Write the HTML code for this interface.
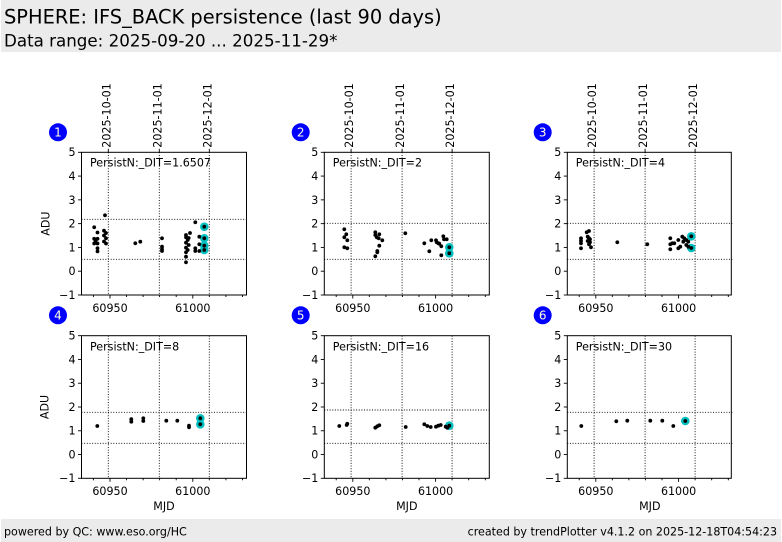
<!DOCTYPE html>
<html><head><meta charset="utf-8"><style>
html,body{margin:0;padding:0;background:#fff;}
svg{display:block;}
text{font-family:"DejaVu Sans","Liberation Sans",sans-serif;fill:#000;}
.t{font-size:11.1px;}
.g{stroke:#000;stroke-width:0.9;stroke-dasharray:1,1.65;fill:none;}
.k{stroke:#000;stroke-width:0.9;}
</style></head><body>
<svg width="782" height="542" viewBox="0 0 782 542" xmlns="http://www.w3.org/2000/svg">
<rect x="0" y="0" width="782" height="542" fill="#fff"/>
<rect x="1" y="0" width="780" height="52" fill="#ebebeb"/>
<text x="4" y="23.5" style="font-size:19.4px">SPHERE: IFS_BACK persistence (last 90 days)</text>
<text x="4" y="46.5" style="font-size:16.7px">Data range: 2025-09-20 ... 2025-11-29*</text>
<rect x="1" y="519" width="780" height="23" fill="#ebebeb"/>
<text x="4" y="535.5" class="t">powered by QC: www.eso.org/HC</text>
<text x="777" y="535.5" class="t" text-anchor="end">created by trendPlotter v4.1.2 on 2025-12-18T04:54:23</text>

<!-- circled numbers -->
<g style="font-size:12px" text-anchor="middle">
<circle cx="58" cy="132.3" r="9" fill="#0000ff"/><text x="58" y="136.6" style="fill:#ffffe0;font-size:12px">1</text>
<circle cx="300.7" cy="132.3" r="9" fill="#0000ff"/><text x="300.7" y="136.6" style="fill:#ffffe0;font-size:12px">2</text>
<circle cx="542.7" cy="132.3" r="9" fill="#0000ff"/><text x="542.7" y="136.6" style="fill:#ffffe0;font-size:12px">3</text>
<circle cx="58" cy="315.3" r="9" fill="#0000ff"/><text x="58" y="319.6" style="fill:#ffffe0;font-size:12px">4</text>
<circle cx="300.7" cy="315.3" r="9" fill="#0000ff"/><text x="300.7" y="319.6" style="fill:#ffffe0;font-size:12px">5</text>
<circle cx="542.7" cy="315.3" r="9" fill="#0000ff"/><text x="542.7" y="319.6" style="fill:#ffffe0;font-size:12px">6</text>
</g>

<!-- PANEL 1 -->
<g transform="translate(81.5,152.3)">
<line class="g" x1="26.8" y1="0" x2="26.8" y2="142.7"/><line class="g" x1="77.8" y1="0" x2="77.8" y2="142.7"/><line class="g" x1="127.8" y1="0" x2="127.8" y2="142.7"/>
<line class="g" x1="0" y1="67" x2="165" y2="67"/><line class="g" x1="0" y1="107" x2="165" y2="107"/>
<rect x="0" y="0" width="165" height="142.7" fill="none" stroke="#000" stroke-width="1"/>
<g class="k"><line x1="-3.5" y1="0" x2="0" y2="0"/><line x1="-3.5" y1="23.78" x2="0" y2="23.78"/><line x1="-3.5" y1="47.56" x2="0" y2="47.56"/><line x1="-3.5" y1="71.34" x2="0" y2="71.34"/><line x1="-3.5" y1="95.12" x2="0" y2="95.12"/><line x1="-3.5" y1="118.9" x2="0" y2="118.9"/><line x1="-3.5" y1="142.7" x2="0" y2="142.7"/>
<line x1="28.5" y1="142.7" x2="28.5" y2="146.2"/><line x1="111.3" y1="142.7" x2="111.3" y2="146.2"/>
<line x1="11.9" y1="142.7" x2="11.9" y2="144.7"/><line x1="45" y1="142.7" x2="45" y2="144.7"/><line x1="61.6" y1="142.7" x2="61.6" y2="144.7"/><line x1="78.1" y1="142.7" x2="78.1" y2="144.7"/><line x1="94.7" y1="142.7" x2="94.7" y2="144.7"/><line x1="127.8" y1="142.7" x2="127.8" y2="144.7"/><line x1="144.4" y1="142.7" x2="144.4" y2="144.7"/><line x1="161" y1="142.7" x2="161" y2="144.7"/>
<line x1="26.8" y1="0" x2="26.8" y2="-3.5"/><line x1="77.8" y1="0" x2="77.8" y2="-3.5"/><line x1="127.8" y1="0" x2="127.8" y2="-3.5"/></g>
<g class="t" text-anchor="end"><text x="-6" y="3.9">5</text><text x="-6" y="27.7">4</text><text x="-6" y="51.5">3</text><text x="-6" y="75.2">2</text><text x="-6" y="99">1</text><text x="-6" y="122.8">0</text><text x="-6" y="146.6">−1</text></g>
<g class="t" text-anchor="middle"><text x="28.5" y="159.5">60950</text><text x="111.3" y="159.5">61000</text></g>
<g class="t"><text transform="translate(28.8,-4.6) rotate(-90)">2025-10-01</text><text transform="translate(79.8,-4.6) rotate(-90)">2025-11-01</text><text transform="translate(129.8,-4.6) rotate(-90)">2025-12-01</text></g>
<text x="8.5" y="14.3" class="t">PersistN:_DIT=1.6507</text>
</g>
<text class="t" text-anchor="middle" transform="translate(49.5,223.6) rotate(-90)">ADU</text>

<!-- PANEL 2 -->
<g transform="translate(324.3,152.3)">
<line class="g" x1="26.8" y1="0" x2="26.8" y2="142.7"/><line class="g" x1="77.8" y1="0" x2="77.8" y2="142.7"/><line class="g" x1="127.8" y1="0" x2="127.8" y2="142.7"/>
<line class="g" x1="0" y1="71" x2="165" y2="71"/><line class="g" x1="0" y1="107" x2="165" y2="107"/>
<rect x="0" y="0" width="165" height="142.7" fill="none" stroke="#000" stroke-width="1"/>
<g class="k"><line x1="-3.5" y1="0" x2="0" y2="0"/><line x1="-3.5" y1="23.78" x2="0" y2="23.78"/><line x1="-3.5" y1="47.56" x2="0" y2="47.56"/><line x1="-3.5" y1="71.34" x2="0" y2="71.34"/><line x1="-3.5" y1="95.12" x2="0" y2="95.12"/><line x1="-3.5" y1="118.9" x2="0" y2="118.9"/><line x1="-3.5" y1="142.7" x2="0" y2="142.7"/>
<line x1="28.5" y1="142.7" x2="28.5" y2="146.2"/><line x1="111.3" y1="142.7" x2="111.3" y2="146.2"/>
<line x1="11.9" y1="142.7" x2="11.9" y2="144.7"/><line x1="45" y1="142.7" x2="45" y2="144.7"/><line x1="61.6" y1="142.7" x2="61.6" y2="144.7"/><line x1="78.1" y1="142.7" x2="78.1" y2="144.7"/><line x1="94.7" y1="142.7" x2="94.7" y2="144.7"/><line x1="127.8" y1="142.7" x2="127.8" y2="144.7"/><line x1="144.4" y1="142.7" x2="144.4" y2="144.7"/><line x1="161" y1="142.7" x2="161" y2="144.7"/>
<line x1="26.8" y1="0" x2="26.8" y2="-3.5"/><line x1="77.8" y1="0" x2="77.8" y2="-3.5"/><line x1="127.8" y1="0" x2="127.8" y2="-3.5"/></g>
<g class="t" text-anchor="end"><text x="-6" y="3.9">5</text><text x="-6" y="27.7">4</text><text x="-6" y="51.5">3</text><text x="-6" y="75.2">2</text><text x="-6" y="99">1</text><text x="-6" y="122.8">0</text><text x="-6" y="146.6">−1</text></g>
<g class="t" text-anchor="middle"><text x="28.5" y="159.5">60950</text><text x="111.3" y="159.5">61000</text></g>
<g class="t"><text transform="translate(28.8,-4.6) rotate(-90)">2025-10-01</text><text transform="translate(79.8,-4.6) rotate(-90)">2025-11-01</text><text transform="translate(129.8,-4.6) rotate(-90)">2025-12-01</text></g>
<text x="8.5" y="14.3" class="t">PersistN:_DIT=2</text>
</g>

<!-- PANEL 3 -->
<g transform="translate(567.3,152.3)">
<line class="g" x1="26.8" y1="0" x2="26.8" y2="142.7"/><line class="g" x1="77.8" y1="0" x2="77.8" y2="142.7"/><line class="g" x1="127.8" y1="0" x2="127.8" y2="142.7"/>
<line class="g" x1="0" y1="71" x2="165" y2="71"/><line class="g" x1="0" y1="107" x2="165" y2="107"/>
<rect x="0" y="0" width="164" height="142.7" fill="none" stroke="#000" stroke-width="1"/>
<g class="k"><line x1="-3.5" y1="0" x2="0" y2="0"/><line x1="-3.5" y1="23.78" x2="0" y2="23.78"/><line x1="-3.5" y1="47.56" x2="0" y2="47.56"/><line x1="-3.5" y1="71.34" x2="0" y2="71.34"/><line x1="-3.5" y1="95.12" x2="0" y2="95.12"/><line x1="-3.5" y1="118.9" x2="0" y2="118.9"/><line x1="-3.5" y1="142.7" x2="0" y2="142.7"/>
<line x1="28.5" y1="142.7" x2="28.5" y2="146.2"/><line x1="111.3" y1="142.7" x2="111.3" y2="146.2"/>
<line x1="11.9" y1="142.7" x2="11.9" y2="144.7"/><line x1="45" y1="142.7" x2="45" y2="144.7"/><line x1="61.6" y1="142.7" x2="61.6" y2="144.7"/><line x1="78.1" y1="142.7" x2="78.1" y2="144.7"/><line x1="94.7" y1="142.7" x2="94.7" y2="144.7"/><line x1="127.8" y1="142.7" x2="127.8" y2="144.7"/><line x1="144.4" y1="142.7" x2="144.4" y2="144.7"/><line x1="161" y1="142.7" x2="161" y2="144.7"/>
<line x1="26.8" y1="0" x2="26.8" y2="-3.5"/><line x1="77.8" y1="0" x2="77.8" y2="-3.5"/><line x1="127.8" y1="0" x2="127.8" y2="-3.5"/></g>
<g class="t" text-anchor="end"><text x="-6" y="3.9">5</text><text x="-6" y="27.7">4</text><text x="-6" y="51.5">3</text><text x="-6" y="75.2">2</text><text x="-6" y="99">1</text><text x="-6" y="122.8">0</text><text x="-6" y="146.6">−1</text></g>
<g class="t" text-anchor="middle"><text x="28.5" y="159.5">60950</text><text x="111.3" y="159.5">61000</text></g>
<g class="t"><text transform="translate(28.8,-4.6) rotate(-90)">2025-10-01</text><text transform="translate(79.8,-4.6) rotate(-90)">2025-11-01</text><text transform="translate(129.8,-4.6) rotate(-90)">2025-12-01</text></g>
<text x="8.5" y="14.3" class="t">PersistN:_DIT=4</text>
</g>

<!-- PANEL 4 -->
<g transform="translate(81.5,335.7)">
<line class="g" x1="26.8" y1="0" x2="26.8" y2="142.6"/><line class="g" x1="77.8" y1="0" x2="77.8" y2="142.6"/><line class="g" x1="127.8" y1="0" x2="127.8" y2="142.6"/>
<line class="g" x1="0" y1="76.6" x2="165" y2="76.6"/><line class="g" x1="0" y1="107.6" x2="165" y2="107.6"/>
<rect x="0" y="0" width="165" height="142.6" fill="none" stroke="#000" stroke-width="1"/>
<g class="k"><line x1="-3.5" y1="0" x2="0" y2="0"/><line x1="-3.5" y1="23.77" x2="0" y2="23.77"/><line x1="-3.5" y1="47.53" x2="0" y2="47.53"/><line x1="-3.5" y1="71.3" x2="0" y2="71.3"/><line x1="-3.5" y1="95.07" x2="0" y2="95.07"/><line x1="-3.5" y1="118.83" x2="0" y2="118.83"/><line x1="-3.5" y1="142.6" x2="0" y2="142.6"/>
<line x1="28.5" y1="142.6" x2="28.5" y2="146.1"/><line x1="111.3" y1="142.6" x2="111.3" y2="146.1"/>
<line x1="11.9" y1="142.6" x2="11.9" y2="144.6"/><line x1="45" y1="142.6" x2="45" y2="144.6"/><line x1="61.6" y1="142.6" x2="61.6" y2="144.6"/><line x1="78.1" y1="142.6" x2="78.1" y2="144.6"/><line x1="94.7" y1="142.6" x2="94.7" y2="144.6"/><line x1="127.8" y1="142.6" x2="127.8" y2="144.6"/><line x1="144.4" y1="142.6" x2="144.4" y2="144.6"/><line x1="161" y1="142.6" x2="161" y2="144.6"/></g>
<g class="t" text-anchor="end"><text x="-6" y="3.9">5</text><text x="-6" y="27.7">4</text><text x="-6" y="51.4">3</text><text x="-6" y="75.2">2</text><text x="-6" y="99">1</text><text x="-6" y="122.7">0</text><text x="-6" y="146.5">−1</text></g>
<g class="t" text-anchor="middle"><text x="28.5" y="159.5">60950</text><text x="111.3" y="159.5">61000</text><text x="82.5" y="174.5">MJD</text></g>
<text x="8.5" y="14.8" class="t">PersistN:_DIT=8</text>
</g>
<text class="t" text-anchor="middle" transform="translate(48.5,407) rotate(-90)">ADU</text>

<!-- PANEL 5 -->
<g transform="translate(324.3,335.7)">
<line class="g" x1="26.8" y1="0" x2="26.8" y2="142.6"/><line class="g" x1="77.8" y1="0" x2="77.8" y2="142.6"/><line class="g" x1="127.8" y1="0" x2="127.8" y2="142.6"/>
<line class="g" x1="0" y1="74.3" x2="165" y2="74.3"/><line class="g" x1="0" y1="107.6" x2="165" y2="107.6"/>
<rect x="0" y="0" width="165" height="142.6" fill="none" stroke="#000" stroke-width="1"/>
<g class="k"><line x1="-3.5" y1="0" x2="0" y2="0"/><line x1="-3.5" y1="23.77" x2="0" y2="23.77"/><line x1="-3.5" y1="47.53" x2="0" y2="47.53"/><line x1="-3.5" y1="71.3" x2="0" y2="71.3"/><line x1="-3.5" y1="95.07" x2="0" y2="95.07"/><line x1="-3.5" y1="118.83" x2="0" y2="118.83"/><line x1="-3.5" y1="142.6" x2="0" y2="142.6"/>
<line x1="28.5" y1="142.6" x2="28.5" y2="146.1"/><line x1="111.3" y1="142.6" x2="111.3" y2="146.1"/>
<line x1="11.9" y1="142.6" x2="11.9" y2="144.6"/><line x1="45" y1="142.6" x2="45" y2="144.6"/><line x1="61.6" y1="142.6" x2="61.6" y2="144.6"/><line x1="78.1" y1="142.6" x2="78.1" y2="144.6"/><line x1="94.7" y1="142.6" x2="94.7" y2="144.6"/><line x1="127.8" y1="142.6" x2="127.8" y2="144.6"/><line x1="144.4" y1="142.6" x2="144.4" y2="144.6"/><line x1="161" y1="142.6" x2="161" y2="144.6"/></g>
<g class="t" text-anchor="end"><text x="-6" y="3.9">5</text><text x="-6" y="27.7">4</text><text x="-6" y="51.4">3</text><text x="-6" y="75.2">2</text><text x="-6" y="99">1</text><text x="-6" y="122.7">0</text><text x="-6" y="146.5">−1</text></g>
<g class="t" text-anchor="middle"><text x="28.5" y="159.5">60950</text><text x="111.3" y="159.5">61000</text><text x="82.5" y="174.5">MJD</text></g>
<text x="8.5" y="14.8" class="t">PersistN:_DIT=16</text>
</g>

<!-- PANEL 6 -->
<g transform="translate(567.3,335.7)">
<line class="g" x1="26.8" y1="0" x2="26.8" y2="142.6"/><line class="g" x1="77.8" y1="0" x2="77.8" y2="142.6"/><line class="g" x1="127.8" y1="0" x2="127.8" y2="142.6"/>
<line class="g" x1="0" y1="76.6" x2="165" y2="76.6"/><line class="g" x1="0" y1="107.6" x2="165" y2="107.6"/>
<rect x="0" y="0" width="164" height="142.6" fill="none" stroke="#000" stroke-width="1"/>
<g class="k"><line x1="-3.5" y1="0" x2="0" y2="0"/><line x1="-3.5" y1="23.77" x2="0" y2="23.77"/><line x1="-3.5" y1="47.53" x2="0" y2="47.53"/><line x1="-3.5" y1="71.3" x2="0" y2="71.3"/><line x1="-3.5" y1="95.07" x2="0" y2="95.07"/><line x1="-3.5" y1="118.83" x2="0" y2="118.83"/><line x1="-3.5" y1="142.6" x2="0" y2="142.6"/>
<line x1="28.5" y1="142.6" x2="28.5" y2="146.1"/><line x1="111.3" y1="142.6" x2="111.3" y2="146.1"/>
<line x1="11.9" y1="142.6" x2="11.9" y2="144.6"/><line x1="45" y1="142.6" x2="45" y2="144.6"/><line x1="61.6" y1="142.6" x2="61.6" y2="144.6"/><line x1="78.1" y1="142.6" x2="78.1" y2="144.6"/><line x1="94.7" y1="142.6" x2="94.7" y2="144.6"/><line x1="127.8" y1="142.6" x2="127.8" y2="144.6"/><line x1="144.4" y1="142.6" x2="144.4" y2="144.6"/><line x1="161" y1="142.6" x2="161" y2="144.6"/></g>
<g class="t" text-anchor="end"><text x="-6" y="3.9">5</text><text x="-6" y="27.7">4</text><text x="-6" y="51.4">3</text><text x="-6" y="75.2">2</text><text x="-6" y="99">1</text><text x="-6" y="122.7">0</text><text x="-6" y="146.5">−1</text></g>
<g class="t" text-anchor="middle"><text x="28.5" y="159.5">60950</text><text x="111.3" y="159.5">61000</text><text x="82.5" y="174.5">MJD</text></g>
<text x="8.5" y="14.8" class="t">PersistN:_DIT=30</text>
</g>

<!-- cyan highlight markers -->
<g fill="#00bfbf">
<circle cx="204.3" cy="226.7" r="4.3"/><circle cx="204.3" cy="238.3" r="4.3"/><circle cx="204.3" cy="245.7" r="4.3"/><circle cx="204.3" cy="250" r="4.3"/>
<circle cx="449.3" cy="247.3" r="4.3"/><circle cx="449.3" cy="253.3" r="4.3"/>
<circle cx="691.3" cy="236.3" r="4.3"/><circle cx="691.3" cy="248" r="4.3"/>
<circle cx="200.3" cy="418.3" r="4.3"/><circle cx="200.3" cy="424.3" r="4.3"/>
<circle cx="449.3" cy="425.7" r="4.3"/>
<circle cx="685.3" cy="421" r="4.3"/>
</g>

<!-- data points -->
<g fill="#000">
<!-- panel 1 -->
<circle cx="94.2" cy="227.3" r="1.9"/><circle cx="97.5" cy="232.5" r="1.9"/><circle cx="94.2" cy="238.8" r="1.9"/><circle cx="97.5" cy="238.8" r="1.9"/><circle cx="94.2" cy="243.5" r="1.9"/><circle cx="97.5" cy="243.5" r="1.9"/><circle cx="97.5" cy="248.3" r="1.9"/><circle cx="97.5" cy="251.4" r="1.9"/><circle cx="95.5" cy="241" r="1.9"/>
<circle cx="105" cy="215.3" r="1.9"/><circle cx="104" cy="230.7" r="1.9"/><circle cx="106" cy="233" r="1.9"/><circle cx="104" cy="235.5" r="1.9"/><circle cx="106" cy="238.3" r="1.9"/><circle cx="104" cy="241.5" r="1.9"/><circle cx="106" cy="243.5" r="1.9"/>
<circle cx="135.3" cy="243.3" r="1.9"/><circle cx="140.3" cy="241.7" r="1.9"/>
<circle cx="162" cy="238.3" r="1.9"/><circle cx="162" cy="246.7" r="1.9"/><circle cx="162" cy="249.3" r="1.9"/><circle cx="162" cy="251" r="1.9"/>
<circle cx="186" cy="235" r="1.9"/><circle cx="186" cy="237.3" r="1.9"/><circle cx="190" cy="233" r="1.9"/><circle cx="187.7" cy="240" r="1.9"/><circle cx="186" cy="242.7" r="1.9"/><circle cx="188.7" cy="245" r="1.9"/><circle cx="186" cy="247.7" r="1.9"/><circle cx="187.7" cy="250" r="1.9"/><circle cx="186" cy="252.3" r="1.9"/><circle cx="186" cy="256.7" r="1.9"/><circle cx="186" cy="262.3" r="1.9"/><circle cx="188.7" cy="238" r="1.9"/>
<circle cx="195.3" cy="222.3" r="1.9"/><circle cx="199.3" cy="236.7" r="1.9"/><circle cx="199.3" cy="244.3" r="1.9"/><circle cx="199.3" cy="251" r="1.9"/><circle cx="195.3" cy="248.3" r="1.9"/><circle cx="195.3" cy="251" r="1.9"/>
<circle cx="204.3" cy="226.7" r="1.9"/><circle cx="204.3" cy="238.3" r="1.9"/><circle cx="204.3" cy="245.7" r="1.9"/><circle cx="204.3" cy="250" r="1.9"/>
<!-- panel 2 -->
<circle cx="344.3" cy="229.3" r="1.9"/><circle cx="346.3" cy="234.3" r="1.9"/><circle cx="344.3" cy="237.3" r="1.9"/><circle cx="347.3" cy="240.3" r="1.9"/><circle cx="344.3" cy="247.3" r="1.9"/><circle cx="347.3" cy="248.3" r="1.9"/>
<circle cx="375.3" cy="232.3" r="1.9"/><circle cx="375.3" cy="235" r="1.9"/><circle cx="376.7" cy="237.3" r="1.9"/><circle cx="379.3" cy="234.3" r="1.9"/><circle cx="378.7" cy="238.3" r="1.9"/><circle cx="382.3" cy="240.3" r="1.9"/><circle cx="379.3" cy="245.7" r="1.9"/><circle cx="377.3" cy="251" r="1.9"/><circle cx="377.3" cy="252.3" r="1.9"/><circle cx="375.3" cy="256.3" r="1.9"/>
<circle cx="405.3" cy="233.3" r="1.9"/>
<circle cx="424.3" cy="243.3" r="1.9"/><circle cx="429.3" cy="251.3" r="1.9"/><circle cx="431.3" cy="240.3" r="1.9"/><circle cx="436" cy="240.3" r="1.9"/><circle cx="436.7" cy="242.3" r="1.9"/><circle cx="438.3" cy="243.3" r="1.9"/><circle cx="439.3" cy="243.7" r="1.9"/><circle cx="441.3" cy="246.3" r="1.9"/><circle cx="441.3" cy="255.3" r="1.9"/><circle cx="443.3" cy="236.3" r="1.9"/><circle cx="444" cy="239.3" r="1.9"/><circle cx="446.7" cy="239.3" r="1.9"/>
<circle cx="449.3" cy="247.3" r="1.9"/><circle cx="449.3" cy="253.3" r="1.9"/>
<!-- panel 3 -->
<circle cx="581" cy="238.3" r="1.9"/><circle cx="581" cy="240.7" r="1.9"/><circle cx="581" cy="243.3" r="1.9"/><circle cx="581" cy="248.3" r="1.9"/>
<circle cx="586.7" cy="232.3" r="1.9"/><circle cx="589" cy="231" r="1.9"/><circle cx="587.7" cy="236.7" r="1.9"/><circle cx="589" cy="238.3" r="1.9"/><circle cx="587.7" cy="241" r="1.9"/><circle cx="590" cy="239.3" r="1.9"/><circle cx="590" cy="242.3" r="1.9"/><circle cx="589" cy="244.3" r="1.9"/><circle cx="591" cy="247.3" r="1.9"/>
<circle cx="617.3" cy="242.3" r="1.9"/><circle cx="647.3" cy="244.3" r="1.9"/>
<circle cx="670.3" cy="238.3" r="1.9"/><circle cx="670.3" cy="244.3" r="1.9"/><circle cx="670.3" cy="249.3" r="1.9"/><circle cx="672.3" cy="243.3" r="1.9"/><circle cx="674.3" cy="243.3" r="1.9"/><circle cx="678.3" cy="240" r="1.9"/><circle cx="678.3" cy="248.3" r="1.9"/><circle cx="680.3" cy="246.7" r="1.9"/><circle cx="682.3" cy="236.7" r="1.9"/><circle cx="683.3" cy="241.7" r="1.9"/><circle cx="684.3" cy="238.3" r="1.9"/><circle cx="686.3" cy="240" r="1.9"/><circle cx="686.3" cy="245" r="1.9"/><circle cx="688.3" cy="241.7" r="1.9"/><circle cx="688.3" cy="246.7" r="1.9"/>
<circle cx="691.3" cy="236.3" r="1.9"/><circle cx="691.3" cy="248" r="1.9"/>
<!-- panel 4 -->
<circle cx="97.3" cy="426" r="1.9"/><circle cx="131.3" cy="419.2" r="1.9"/><circle cx="131.3" cy="421.7" r="1.9"/><circle cx="143.3" cy="418.3" r="1.9"/><circle cx="143.3" cy="421" r="1.9"/><circle cx="166.3" cy="420.7" r="1.9"/><circle cx="177.3" cy="420.7" r="1.9"/><circle cx="189" cy="425.7" r="1.9"/><circle cx="189" cy="427.3" r="1.9"/>
<circle cx="200.3" cy="418.3" r="1.9"/><circle cx="200.3" cy="424.3" r="1.9"/>
<!-- panel 5 -->
<circle cx="339.3" cy="426" r="1.9"/><circle cx="346.7" cy="425" r="1.9"/><circle cx="347.3" cy="423.8" r="1.9"/>
<circle cx="375.3" cy="427.7" r="1.9"/><circle cx="377.3" cy="426.3" r="1.9"/><circle cx="379.3" cy="425.3" r="1.9"/>
<circle cx="405.7" cy="427" r="1.9"/>
<circle cx="424.3" cy="424.3" r="1.9"/><circle cx="427.3" cy="426" r="1.9"/><circle cx="430.7" cy="427" r="1.9"/><circle cx="436" cy="426.7" r="1.9"/><circle cx="438.3" cy="425.7" r="1.9"/><circle cx="440.7" cy="425" r="1.9"/><circle cx="445.7" cy="426.7" r="1.9"/><circle cx="447.3" cy="427.7" r="1.9"/>
<circle cx="449.3" cy="425.7" r="1.9"/>
<!-- panel 6 -->
<circle cx="581.3" cy="426" r="1.9"/><circle cx="616.3" cy="421.3" r="1.9"/><circle cx="627.3" cy="420.7" r="1.9"/><circle cx="650.3" cy="420.7" r="1.9"/><circle cx="662.3" cy="420.7" r="1.9"/><circle cx="673.3" cy="426" r="1.9"/><circle cx="685.3" cy="421" r="1.9"/>
</g>
</svg>
</body></html>
